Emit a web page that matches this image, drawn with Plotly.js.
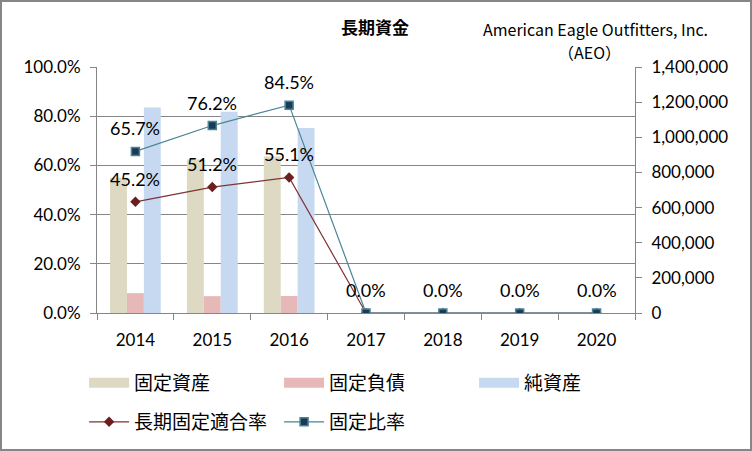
<!DOCTYPE html>
<html><head><meta charset="utf-8">
<script src="https://cdn.plot.ly/plotly-3.0.1.min.js"></script>
<style>
body{margin:0;background:#fff}
#wrap{position:relative;width:752px;height:451px}
#chart{width:752px;height:451px}
#frame{position:absolute;left:0;top:0;width:752px;height:451px;box-sizing:border-box;border:2px solid #868686;pointer-events:none}
</style>
</head><body>
<div id="wrap"><div id="chart"></div><div id="frame"></div></div>
<script>
const years = ['2014','2015','2016','2017','2018','2019','2020'];
const fixedAssets = [770000, 873000, 890000, null, null, null, null];
const fixedLiabilities = [113000, 96000, 97000, null, null, null, null];
const netAssets = [1170000, 1145000, 1053000, null, null, null, null];
const longTermFixedRatio = [0.452, 0.512, 0.551, 0, 0, 0, 0];
const fixedRatio = [0.657, 0.762, 0.845, 0, 0, 0, 0];
const names = ['固定資産','固定負債','純資産','長期固定適合率','固定比率'];
const barColors = ['#DDD9C3','#E6B9B8','#C6D9F1'];
const chartTitle = '長期資金';
const company = 'American Eagle Outfitters, Inc.';
const ticker = '（AEO）';

const barSeries = [fixedAssets, fixedLiabilities, netAssets];
const traces = [];
barSeries.forEach((vals, i) => {
  traces.push({type:'bar', x:years, y:vals, name:names[i], yaxis:'y',
    marker:{color:barColors[i], line:{width:0}}, showlegend:false, hoverinfo:'skip'});
});
// legend swatches for bars (no drawn data)
barSeries.forEach((vals, i) => {
  traces.push({type:'scatter', mode:'lines', x:[years[0]], y:[null], name:names[i], yaxis:'y',
    line:{color:barColors[i], width:13}, legend:'legend', hoverinfo:'skip'});
});
traces.push({type:'scatter', mode:'lines+markers', x:years, y:longTermFixedRatio, yaxis:'y2',
  name:names[3], legend:'legend2',
  line:{color:'#7F3333', width:1.2},
  marker:{symbol:'diamond', size:8, color:'#6B1F1F', line:{width:0}}});
traces.push({type:'scatter', mode:'lines+markers', x:years, y:fixedRatio, yaxis:'y2',
  name:names[4], legend:'legend2',
  line:{color:'#4A8595', width:1.2},
  marker:{symbol:'square', size:8, color:'#1B3A57', line:{width:1.5, color:'#4A8595'}}});

const fmtPct = v => (v*100).toFixed(1) + '%';
const annotations = [];
const labelFont = {family:'Lato, sans-serif', size:18, color:'#000'};
fixedRatio.forEach((v, i) => {
  annotations.push({x:i, y:v, xref:'x', yref:'y2', text:fmtPct(v), showarrow:false,
    xanchor:'center', yanchor:'middle', yshift:23, font:labelFont});
});
longTermFixedRatio.forEach((v, i) => {
  if (v === fixedRatio[i]) return; // same spot as the other label
  annotations.push({x:i, y:v, xref:'x', yref:'y2', text:fmtPct(v), showarrow:false,
    xanchor:'center', yanchor:'middle', yshift:23, font:labelFont});
});
annotations.push({xref:'paper', yref:'paper', x:0.926, y:1.156, xanchor:'center', yanchor:'middle',
  text:company, showarrow:false,
  font:{family:'"Noto Sans CJK JP", sans-serif', size:16, color:'#000'}});
annotations.push({xref:'paper', yref:'paper', x:0.916, y:1.062, xanchor:'center', yanchor:'middle',
  text:ticker, showarrow:false,
  font:{family:'"Noto Sans CJK JP", sans-serif', size:16, color:'#000'}});

const axColor = '#868686';
const layout = {
  width:752, height:451,
  margin:{l:97, r:117, t:67, b:137},
  paper_bgcolor:'#fff', plot_bgcolor:'#fff',
  font:{family:'Lato, "Noto Sans CJK JP", sans-serif', size:17, color:'#000'},
  title:{text:'<b>'+chartTitle+'</b>', xref:'container', x:375/752, xanchor:'center',
    yref:'container', y:1-28/451, yanchor:'middle',
    font:{family:'"Noto Sans CJK JP", sans-serif', size:17, color:'#000'}},
  barmode:'group', bargap:0.34, bargroupgap:0,
  xaxis:{type:'category', categoryorder:'array', categoryarray:years, range:[-0.5, 6.5],
    tickson:'boundaries', ticks:'outside', ticklen:6, tickcolor:axColor, tickangle:0,
    showline:true, linecolor:axColor, showgrid:false, ticklabelstandoff:12},
  yaxis:{side:'right', range:[0,1400000], dtick:200000, tickformat:',', showgrid:false,
    showline:true, linecolor:axColor, ticks:'outside', ticklen:6, tickcolor:axColor,
    zeroline:false, ticklabelstandoff:6},
  yaxis2:{overlaying:'y', side:'left', range:[0,1], dtick:0.2, tickformat:'.1%',
    showgrid:true, gridcolor:axColor, showline:true, linecolor:axColor, ticks:'outside',
    ticklen:6, tickcolor:axColor, zeroline:false, ticklabelstandoff:6},
  legend:{orientation:'h', x:-0.024, xanchor:'left', y:-0.279, yanchor:'middle',
    entrywidth:140, itemwidth:40, bgcolor:'rgba(0,0,0,0)',
    font:{family:'"Noto Sans CJK JP", sans-serif', size:19, color:'#000'}},
  legend2:{orientation:'h', x:-0.024, xanchor:'left', y:-0.437, yanchor:'middle',
    entrywidth:140, itemwidth:40, bgcolor:'rgba(0,0,0,0)',
    font:{family:'"Noto Sans CJK JP", sans-serif', size:19, color:'#000'}},
  annotations:annotations,
  showlegend:true
};
Plotly.newPlot('chart', traces, layout, {staticPlot:true, displayModeBar:false});
</script>
</body></html>
